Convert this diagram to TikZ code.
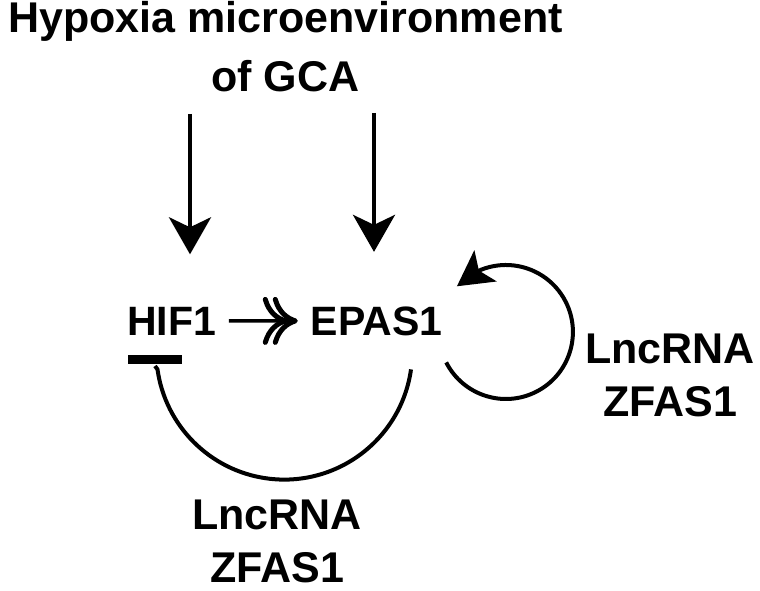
\documentclass[tikz,border=0pt]{standalone}
\usepackage{fontspec}
\setmainfont{Liberation Sans}
\usetikzlibrary{arrows.meta,bending,positioning}

\begin{document}
\begin{tikzpicture}[x=1pt, y=-1pt, line width=4pt,
  every node/.style={inner sep=0pt, align=center, font=\bfseries\fontsize{41}{54}\selectfont},
  label/.style={font=\bfseries\fontsize{43}{53}\selectfont},
  induce/.style={-{Stealth[length=37pt, width=42pt, inset=10pt]}},
  feedback/.style={-{Stealth[length=35pt, width=38pt, inset=8pt, flex]}},
  chev/.tip={Computer Modern Rightarrow[length=25pt, width=48pt, line width=5pt]},
  promote/.style={-{chev[sep=-15pt]chev[]}, line width=3.5pt}]
\useasboundingbox (0,0) rectangle (760,591);
% text
\node[anchor=south, font=\bfseries\fontsize{43}{59}\selectfont] (hypoxia) at (285.5,94) {Hypoxia microenvironment\\of GCA};
\node[anchor=base] (hif) at (171.5,335) {HIF1};
\node[anchor=base] (epas) at (376.5,335) {EPAS1};
\node[fill, minimum width=54pt, minimum height=9pt] (block) at (155,359.5) {};
\node[label, anchor=south] (lncright) at (670,419) {LncRNA\\ZFAS1};
\node[label, anchor=south] (lncbottom) at (277,585) {LncRNA\\ZFAS1};
% arrows
\draw[induce, shorten <=20pt, shorten >=50.5pt] ([xshift=18.5pt]hypoxia.south -| hif.north) -- ([xshift=18.5pt]hif.north);
\draw[induce, shorten <=19pt, shorten >=52.5pt] ([xshift=-2.5pt]hypoxia.south -| epas.north) -- ([xshift=-2.5pt]epas.north);
\draw[promote, shorten <=11pt, shorten >=11pt] (hif) -- (epas);
\draw ([xshift=34.5pt,yshift=-32pt]epas.south) arc[start angle=8, end angle=172, radius=128] -- (block.south);
\draw[feedback] ([xshift=2pt,yshift=-25pt]epas.south east) arc[start angle=153, end angle=-137, radius=67];
\end{tikzpicture}
\end{document}
